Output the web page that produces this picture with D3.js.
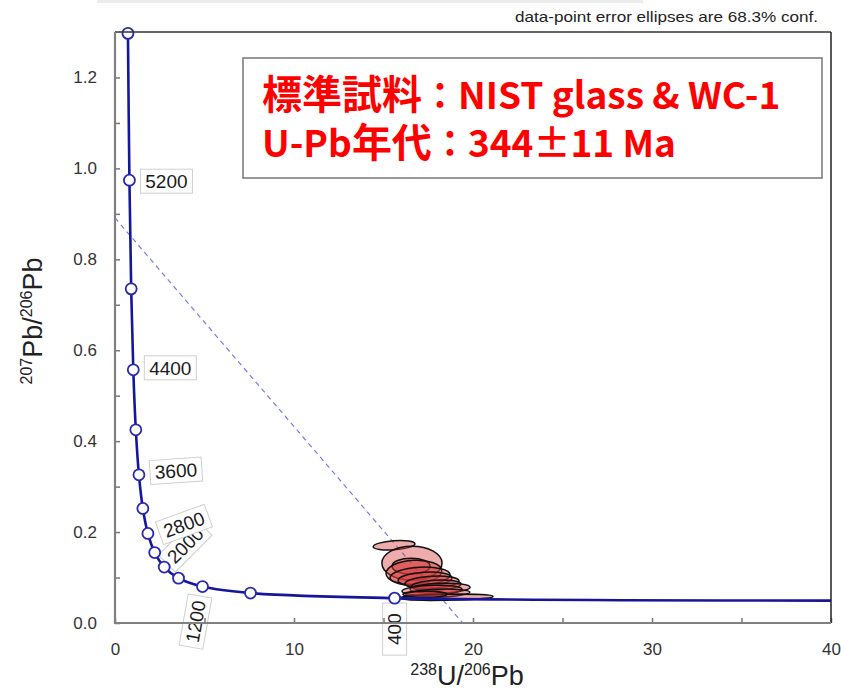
<!DOCTYPE html>
<html>
<head>
<meta charset="utf-8">
<script src="https://cdn.jsdelivr.net/npm/d3@7"></script>
<style>
  body { margin: 0; background: #fff; }
  svg { display: block; }
  .axis text { font-family: "Liberation Sans", Arial, sans-serif; font-size: 17px; fill: #333; }
</style>
</head>
<body>
<svg id="chart" width="841" height="691"></svg>
<script>
// concordia marker ages (Ma) and their positions (238U/206Pb, 207Pb/206Pb)
var ages     = [5600, 5200, 4800, 4400, 4000, 3600, 3200, 2800, 2400, 2000, 1600, 1200, 800, 400];
var concX    = [0.723, 0.806, 0.904, 1.022, 1.163, 1.337, 1.556, 1.838, 2.217, 2.749, 3.550, 4.888, 7.568, 15.62];
var concY    = [1.297, 0.974, 0.735, 0.557, 0.425, 0.326, 0.252, 0.197, 0.155, 0.123, 0.0987, 0.0801, 0.0658, 0.0547];
// tail of the curve out to the right edge
var tailX    = [40];
var tailY    = [0.0492];
var labelAges = [5200, 4400, 3600, 2000, 2800, 1200, 400];

// discordia (regression) end points
var discX = [0, 19.42];
var discY = [0.891, 0];

// error ellipses: centre, semi-axes, tilt
var ellX  = [15.59, 16.59, 16.54, 16.70, 17.04, 17.32, 17.71, 17.93, 18.16, 17.71, 18.04, 18.49, 17.32];
var ellY  = [0.171, 0.1315, 0.125, 0.1117, 0.1029, 0.0963, 0.0896, 0.0830, 0.0764, 0.0720, 0.0654, 0.0566, 0.0632];
var ellRx = [1.17, 1.68, 1.06, 1.56, 1.68, 1.51, 1.51, 1.40, 1.68, 1.68, 1.79, 2.63, 1.23];
var ellRy = [0.0099, 0.0374, 0.0176, 0.0264, 0.0198, 0.0154, 0.0132, 0.0110, 0.0110, 0.0110, 0.0088, 0.0066, 0.0066];
var ellRot = [-4, 0, 0, -3, -3, -3, -3, -3, -2, -2, -2, -1, 0];

var xTicks = [0, 5, 10, 15, 20, 25, 30, 35, 40];
var yTicks = [0, 0.1, 0.2, 0.3, 0.4, 0.5, 0.6, 0.7, 0.8, 0.9, 1.0, 1.1, 1.2];

var svg = d3.select('#chart');
var plotL = 115, plotR = 831, plotT = 32, plotB = 623;

var x = d3.scaleLinear().domain([0, 40]).range([plotL, plotR]);
var y = d3.scaleLinear().domain([0, 1.3]).range([plotB, plotT]);

// grey strip at the very top (slide artefact)
svg.append('rect').attr('x', 97).attr('y', 0).attr('width', 546).attr('height', 3).attr('fill', '#ececec');

svg.append('text')
    .attr('x', 818).attr('y', 22)
    .attr('text-anchor', 'end')
    .attr('textLength', 303)
    .attr('lengthAdjust', 'spacingAndGlyphs')
    .style('font-family', '"Liberation Sans", Arial, sans-serif')
    .style('font-size', '15px')
    .style('fill', '#222')
    .text('data-point error ellipses are 68.3% conf.');

svg.append('clipPath').attr('id', 'plotClip')
    .append('rect').attr('x', plotL).attr('y', plotT).attr('width', plotR - plotL).attr('height', plotB - plotT);

var plot = svg.append('g').attr('clip-path', 'url(#plotClip)');

// discordia
plot.append('line')
    .attr('x1', x(discX[0])).attr('y1', y(discY[0]))
    .attr('x2', x(discX[1])).attr('y2', y(discY[1]))
    .style('stroke', '#7a7ae6')
    .style('stroke-width', 1.2)
    .style('stroke-dasharray', '5,4');

// ellipses
ellX.forEach(function(cx, i) {
    var px = x(cx), py = y(ellY[i]);
    plot.append('ellipse')
        .attr('cx', px).attr('cy', py)
        .attr('rx', x(cx + ellRx[i]) - px)
        .attr('ry', py - y(ellY[i] + ellRy[i]))
        .attr('transform', 'rotate(' + ellRot[i] + ',' + px + ',' + py + ')')
        .style('fill', 'rgba(215,58,58,0.42)')
        .style('stroke', '#111')
        .style('stroke-width', 1.5);
});

// concordia curve
var curvePts = concX.map(function(v, i) { return [v, concY[i]]; })
    .concat(tailX.map(function(v, i) { return [v, tailY[i]]; }));
var line = d3.line()
    .x(function(d) { return x(d[0]); })
    .y(function(d) { return y(d[1]); })
    .curve(d3.curveCatmullRom.alpha(0.5));

plot.append('path')
    .datum(curvePts)
    .attr('d', line)
    .style('fill', 'none')
    .style('stroke', '#16169a')
    .style('stroke-width', 2.6);

// age labels (position offsets and rotations relative to the marker)
var labelPlace = {
    5200: { dx: 37, dy: 1, rot: 0 },
    4400: { dx: 37, dy: -2, rot: 0 },
    3600: { dx: 37, dy: -4, rot: -4 },
    2000: { dx: 21, dy: -22, rot: -45 },
    2800: { dx: 36, dy: -9, rot: -20 },
    1200: { dx: -7, dy: 35, rot: -80 },
    400:  { dx: 0, dy: 31, rot: -90 }
};
labelAges.forEach(function(a) {
    var i = ages.indexOf(a);
    var p = labelPlace[a];
    var cx = x(concX[i]) + p.dx, cy = y(concY[i]) + p.dy;
    var g = svg.append('g').attr('transform', 'translate(' + cx + ',' + cy + ') rotate(' + p.rot + ')');
    g.append('rect')
        .attr('x', -26).attr('y', -12).attr('width', 52).attr('height', 24)
        .style('fill', '#fff').style('stroke', '#cfcfcf').style('stroke-width', 1);
    g.append('text')
        .attr('text-anchor', 'middle').attr('dy', '0.36em')
        .style('font-family', '"Liberation Sans", Arial, sans-serif')
        .style('font-size', '19px').style('fill', '#1a1a1a')
        .text(a);
});

// markers
svg.selectAll('circle.age')
    .data(ages)
    .enter().append('circle')
    .attr('class', 'age')
    .attr('cx', function(d, i) { return x(concX[i]); })
    .attr('cy', function(d, i) { return y(concY[i]); })
    .attr('r', 5.5)
    .style('fill', '#fff')
    .style('stroke', '#2828b0')
    .style('stroke-width', 1.8);

// axes
var yAxis = d3.axisLeft(y).tickValues(yTicks).tickSize(-5).tickPadding(18)
    .tickFormat(function(d) { return Math.round(d * 10) % 2 === 0 ? d3.format('.1f')(d) : ''; });
var xAxis = d3.axisBottom(x).tickValues(xTicks).tickSize(-5).tickPadding(20)
    .tickFormat(function(d) { return d % 10 === 0 ? d : ''; });

var gy = svg.append('g').attr('class', 'axis').attr('transform', 'translate(' + plotL + ',0)').call(yAxis);
var gx = svg.append('g').attr('class', 'axis').attr('transform', 'translate(0,' + plotB + ')').call(xAxis);
[gx, gy].forEach(function(g) {
    g.select('.domain').remove();
    g.selectAll('.tick line').style('stroke', '#777').style('stroke-width', 1.5);
});

// frame
svg.append('line').attr('x1', plotL).attr('y1', plotT).attr('x2', plotR).attr('y2', plotT)
    .style('stroke', '#333').style('stroke-width', 1.5);
svg.append('line').attr('x1', plotR).attr('y1', plotT).attr('x2', plotR).attr('y2', plotB)
    .style('stroke', '#222').style('stroke-width', 1.5);
svg.append('line').attr('x1', plotL).attr('y1', plotT).attr('x2', plotL).attr('y2', plotB + 1)
    .style('stroke', '#808080').style('stroke-width', 2.2);
svg.append('line').attr('x1', plotL - 1).attr('y1', plotB).attr('x2', plotR).attr('y2', plotB)
    .style('stroke', '#808080').style('stroke-width', 2.2);

// axis titles
var xt = svg.append('text')
    .attr('x', 467).attr('y', 685)
    .attr('text-anchor', 'middle')
    .style('font-family', '"Liberation Sans", Arial, sans-serif')
    .style('font-size', '27px').style('fill', '#222');
xt.append('tspan').attr('dy', -10).style('font-size', '16px').text('238');
xt.append('tspan').attr('dy', 10).text('U/');
xt.append('tspan').attr('dy', -10).style('font-size', '16px').text('206');
xt.append('tspan').attr('dy', 10).text('Pb');

var yt = svg.append('text')
    .attr('transform', 'translate(42,321) rotate(-90)')
    .attr('text-anchor', 'middle')
    .style('font-family', '"Liberation Sans", Arial, sans-serif')
    .style('font-size', '27px').style('fill', '#222');
yt.append('tspan').attr('dy', -10).style('font-size', '16px').text('207');
yt.append('tspan').attr('dy', 10).text('Pb/');
yt.append('tspan').attr('dy', -10).style('font-size', '16px').text('206');
yt.append('tspan').attr('dy', 10).text('Pb');

// title box
svg.append('rect')
    .attr('x', 243).attr('y', 58).attr('width', 579).attr('height', 120)
    .style('fill', '#fff').style('stroke', '#777').style('stroke-width', 1.5);
// each title line split into runs: [text, isCJK]
var titleLines = [
    [['標準試料', true], ['：', false], ['NIST glass & WC-1', false]],
    [['U-Pb', false], ['年代', true], ['：', false], ['344±11 Ma', false]]
];
titleLines.forEach(function(runs, i) {
    var t = svg.append('text')
        .attr('x', 262)
        .attr('y', 109 + i * 48)
        .style('font-family', '"Noto Sans CJK JP", "Noto Sans", sans-serif')
        .style('font-weight', 'bold')
        .style('font-size', '37px')
        .style('fill', '#ff0000');
    runs.forEach(function(r) {
        var s = t.append('tspan').text(r[0]);
        if (r[1]) s.style('font-size', '40px');
        if (r[0] === '：') s.style('font-size', '36px');
    });
});
</script>
</body>
</html>
